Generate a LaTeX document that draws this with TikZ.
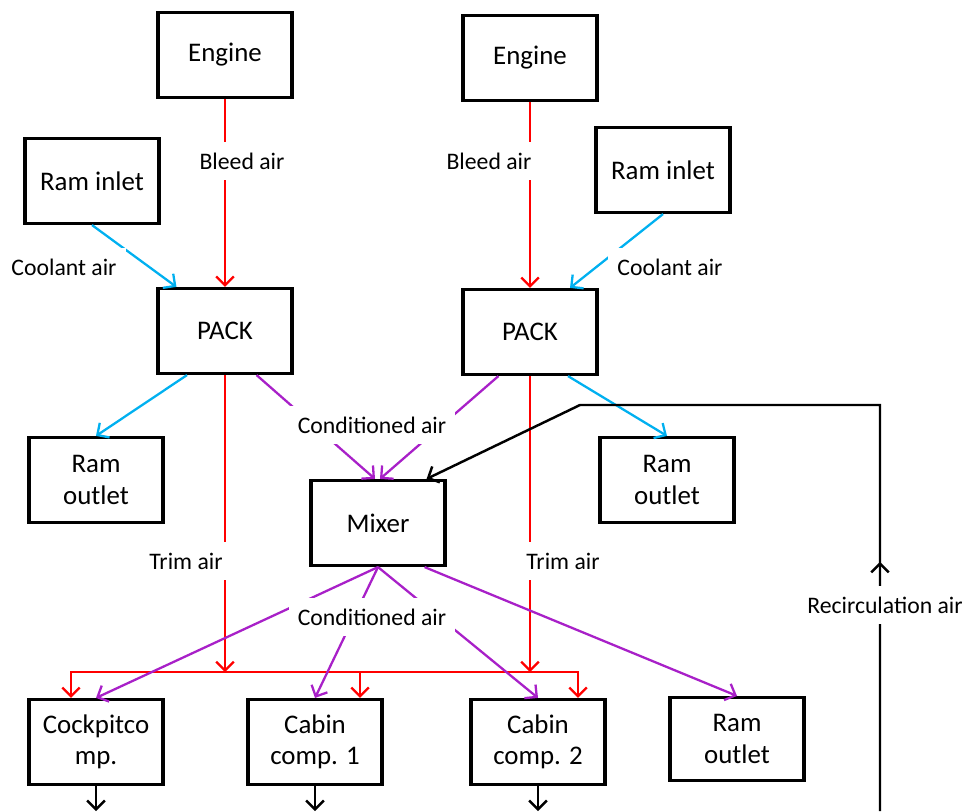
\documentclass[tikz,border=0pt]{standalone}
\usepackage{fontspec}
\setmainfont{Carlito}
\usetikzlibrary{arrows.meta,calc}
\definecolor{bleedred}{RGB}{255,0,0}
\definecolor{coolblue}{RGB}{0,176,240}
\definecolor{condpurple}{RGB}{168,32,200}

\begin{document}
\begin{tikzpicture}[x=0.02cm,y=-0.02cm,
  >={Straight Barb[length=5pt,width=10pt]},
  box/.style={draw, line width=1.8pt, minimum width=2.68cm, minimum height=1.7cm, align=center, font=\fontsize{15.3}{18}\selectfont},
  lbl/.style={fill=white, inner xsep=0.18cm, inner ysep=0.21cm, font=\fontsize{13.5}{15}\selectfont},
  flow/.style={line width=1.3pt, ->},
  bleed/.style={flow, bleedred},
  coolant/.style={flow, coolblue},
  cond/.style={flow, condpurple},
  recirc/.style={flow, black, line width=1.4pt}]
\useasboundingbox (0,0) rectangle (963,811);
\node[box] (engL) at (225,55) {Engine};
\node[box] (engR) at (530,58) {Engine};
\node[box] (ramiL) at (92,181) {Ram inlet};
\node[box] (ramiR) at (663,170) {Ram inlet};
\node[box] (packL) at (225,331) {PACK};
\node[box] (packR) at (530,332) {PACK};
\node[box] (ramoL) at (96,480) {Ram\\outlet};
\node[box] (ramoR) at (667,480) {Ram\\outlet};
\node[box] (mixer) at (378,523) {Mixer};
\node[box] (cock) at (96,742) {Cockpitco\\mp.};
\node[box] (cab1) at (315,742) {Cabin\\comp. 1};
\node[box] (cab2) at (538,742) {Cabin\\comp. 2};
\node[box, minimum height=1.66cm] (ramoB) at (737,739) {Ram\\outlet};
\coordinate (busL) at (71,672);
\coordinate (busM) at (360,672);
\coordinate (busR) at (578,672);
\coordinate (recB) at (880,811);
\coordinate (recT) at (880,405);
\coordinate (recK) at (580,405);
\draw[bleed] (engL) -- (packL);
\draw[bleed] (engR) -- (packR);
\draw[coolant] (ramiL.south) -- ($(packL.north west)+(20,0)$);
\draw[coolant] (ramiR.south) -- ($(packR.north)+(40,0)$);
\draw[coolant] ($(packL.south)+(-38,0)$) -- (ramoL.north);
\draw[coolant] ($(packR.south)+(38,0)$) -- (ramoR.north);
\draw[cond] ($(packL.south east)+(-37,0)$) -- ($(mixer.north)+(-3,0)$);
\draw[cond] ($(packR.south west)+(37,0)$) -- ($(mixer.north)+(2,0)$);
\draw[bleed] (packL.south) -- (packL.south |- busL);
\draw[bleed] (packR.south) -- (packR.south |- busR);
\draw[bleed, <->] (busL |- cock.north) -- (busL) -- (busR) -- (busR |- cab2.north);
\draw[bleed] (busM) -- (busM |- cab1.north);
\foreach \dest in {cock, cab1, cab2}
  \draw[cond] (mixer.south) -- (\dest.north);
\draw[cond] ($(mixer.south east)+(-22,0)$) -- (ramoB.north);
\draw[recirc] (recB) -- (recT) -- (recK) -- ($(mixer.north east)+(-20,0)$);
\foreach \src in {cock, cab1, cab2}
  \draw[recirc] (\src.south) -- (\src.south |- recB);
\node[lbl] (bleedL) at (242,161) {Bleed air};
\node[lbl] (bleedR) at (489,161) {Bleed air};
\node[lbl] (coolL) at (64,267) {Coolant air};
\node[lbl] (coolR) at (670,267) {Coolant air};
\node[lbl] (condT) at (372,425) {Conditioned air};
\node[lbl] (condB) at (372,617) {Conditioned air};
\node[lbl] (trimL) at (186,561) {Trim air};
\node[lbl] (trimR) at (563,561) {Trim air};
\node[lbl] (recLbl) at (885,605) {Recirculation air};
\draw[recirc] (recLbl.north -| recB) -- ++(0,-24);
\end{tikzpicture}
\end{document}
